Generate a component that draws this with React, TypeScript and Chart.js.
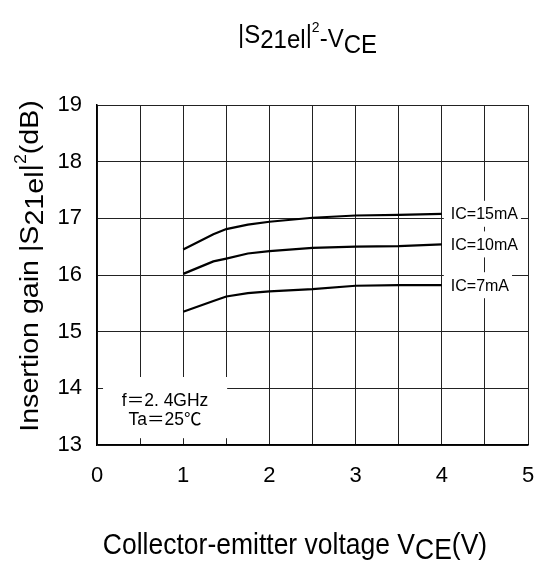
import React, { useEffect, useRef } from 'react';
import { Chart, registerables } from 'chart.js';

Chart.register(...registerables);

// ---- data ----
const vce = [1, 1.35, 1.5, 1.75, 2, 2.5, 3, 3.5, 4];
const gainIc15 = [16.45, 16.72, 16.81, 16.89, 16.94, 17.01, 17.05, 17.06, 17.08];
const gainIc10 = [16.02, 16.24, 16.29, 16.38, 16.42, 16.48, 16.5, 16.51, 16.54];
const gainIc7 = [15.35, 15.54, 15.62, 15.68, 15.71, 15.75, 15.81, 15.82, 15.82];
const seriesLabels = ['IC=15mA', 'IC=10mA', 'IC=7mA'];
const xTickValues = [0, 1, 2, 3, 4, 5];
const yTickValues = [13, 14, 15, 16, 17, 18, 19];
const conditionLines = ['f＝2. 4GHz', 'Ta＝25℃'];

const FONT = '"Liberation Sans", Arial, "Noto Sans CJK JP", sans-serif';

type Part = { t: string; size: number; dy: number };

function partsWidth(ctx: CanvasRenderingContext2D, parts: Part[]) {
  let w = 0;
  for (const p of parts) {
    ctx.font = `${p.size}px ${FONT}`;
    w += ctx.measureText(p.t).width;
  }
  return w;
}

function drawParts(ctx: CanvasRenderingContext2D, parts: Part[], x: number, y: number) {
  let cx = x;
  ctx.textAlign = 'left';
  ctx.textBaseline = 'alphabetic';
  for (const p of parts) {
    ctx.font = `${p.size}px ${FONT}`;
    ctx.fillText(p.t, cx, y + p.dy);
    cx += ctx.measureText(p.t).width;
  }
}

const titleParts: Part[] = [
  { t: '|S', size: 24, dy: 0 },
  { t: '21el', size: 24, dy: 5 },
  { t: '|', size: 24, dy: 0 },
  { t: '2', size: 14, dy: -10 },
  { t: '-V', size: 24, dy: 4 },
  { t: 'CE', size: 24, dy: 9 },
];

const xTitleParts: Part[] = [
  { t: 'Collector-emitter voltage V', size: 26.5, dy: 0 },
  { t: 'CE', size: 26.5, dy: 5 },
  { t: '(V)', size: 26.5, dy: 0 },
];

const yTitleParts: Part[] = [
  { t: 'Insertion gain |S', size: 26, dy: 0 },
  { t: '21el', size: 26, dy: 5 },
  { t: '|', size: 26, dy: 0 },
  { t: '2', size: 16, dy: -12 },
  { t: '(dB)', size: 26, dy: 0 },
];

const decorPlugin = {
  id: 'decor',
  afterDatasetsDraw(chart: any) {
    const ctx: CanvasRenderingContext2D = chart.ctx;
    const xs = chart.scales.x;
    const ys = chart.scales.y;
    ctx.save();
    ctx.fillStyle = '#000';

    // series labels at line ends
    const series = [gainIc15, gainIc10, gainIc7];
    series.forEach((arr, i) => {
      const lx = xs.getPixelForValue(vce[vce.length - 1]);
      const ly = ys.getPixelForValue(arr[arr.length - 1]);
      ctx.font = `16px ${FONT}`;
      const w = ctx.measureText(seriesLabels[i]).width;
      ctx.fillStyle = '#fff';
      ctx.fillRect(lx + 2, ly - 13, w + 10, 26);
      ctx.fillStyle = '#000';
      ctx.textAlign = 'left';
      ctx.textBaseline = 'middle';
      ctx.fillText(seriesLabels[i], lx + 9, ly + 1);
    });

    // condition box
    const bx0 = xs.getPixelForValue(0.07);
    const bx1 = xs.getPixelForValue(1.51);
    const by0 = ys.getPixelForValue(14.2);
    const by1 = ys.getPixelForValue(13.12);
    ctx.fillStyle = '#fff';
    ctx.fillRect(bx0, by0, bx1 - bx0, by1 - by0);
    ctx.fillStyle = '#000';
    ctx.font = `17.5px ${FONT}`;
    ctx.textAlign = 'center';
    ctx.textBaseline = 'middle';
    const cx = (bx0 + bx1) / 2;
    ctx.fillText(conditionLines[0], cx, by0 + 24);
    ctx.fillText(conditionLines[1], cx, by0 + 43);
    ctx.restore();
  },
  afterDraw(chart: any) {
    const ctx: CanvasRenderingContext2D = chart.ctx;
    const area = chart.chartArea;
    ctx.save();
    ctx.fillStyle = '#000';

    // title
    const tw = partsWidth(ctx, titleParts);
    ctx.save();
    ctx.translate((area.left + area.right) / 2 - 5, 43);
    ctx.scale(1, 1.08);
    drawParts(ctx, titleParts, -tw / 2, 0);
    ctx.restore();

    // x title
    const xw = partsWidth(ctx, xTitleParts);
    ctx.save();
    ctx.translate(295, 554);
    ctx.scale(1, 1.08);
    drawParts(ctx, xTitleParts, -xw / 2, 0);
    ctx.restore();

    // y title
    const yw = partsWidth(ctx, yTitleParts);
    ctx.save();
    ctx.translate(38, 266);
    ctx.rotate(-Math.PI / 2);
    ctx.scale(1.1, 1);
    drawParts(ctx, yTitleParts, -yw / 2, 0);
    ctx.restore();

    ctx.restore();
  },
};

export default function App() {
  const ref = useRef<HTMLCanvasElement | null>(null);

  useEffect(() => {
    if (!ref.current) return;
    const mk = (ys: number[]) => vce.map((x, i) => ({ x, y: ys[i] }));
    const chart = new Chart(ref.current, {
      type: 'line',
      data: {
        datasets: [
          { label: seriesLabels[0], data: mk(gainIc15) },
          { label: seriesLabels[1], data: mk(gainIc10) },
          { label: seriesLabels[2], data: mk(gainIc7) },
        ],
      },
      options: {
        responsive: false,
        animation: false,
        devicePixelRatio: 1,
        layout: { padding: { top: 105, right: 9, left: 0, bottom: 0 } },
        plugins: {
          legend: { display: false },
          tooltip: { enabled: false },
          title: { display: false },
        },
        elements: {
          point: { radius: 0 },
          line: { tension: 0, borderWidth: 2.2, borderColor: '#000' },
        },
        scales: {
          x: {
            type: 'linear',
            min: 0,
            max: 5,
            ticks: {
              stepSize: 0.5,
              autoSkip: false,
              maxRotation: 0,
              callback: (v: any) => (xTickValues.includes(Number(v)) ? String(v) : ''),
              font: { size: 22, family: FONT },
              color: '#000',
              padding: 18,
            },
            grid: { color: '#222', lineWidth: 1, drawTicks: false },
            border: { color: '#000', width: 1.5 },
            afterFit: (s: any) => {
              s.height = 118;
              s.paddingLeft = 0;
              s.paddingRight = 0;
            },
          },
          y: {
            min: 13,
            max: 19,
            ticks: {
              stepSize: 1,
              callback: (v: any) => (yTickValues.includes(Number(v)) ? String(v) : ''),
              font: { size: 22, family: FONT },
              color: '#000',
              padding: 15,
            },
            grid: { color: '#222', lineWidth: 1, drawTicks: false },
            border: { color: '#000', width: 1.5 },
            afterFit: (s: any) => {
              s.width = 97;
              s.paddingTop = 0;
              s.paddingBottom = 0;
            },
          },
        },
      } as any,
      plugins: [decorPlugin],
    });
    return () => chart.destroy();
  }, []);

  return (
    <div style={{ position: 'fixed', left: 0, top: 0, width: 537, height: 563, background: '#fff' }}>
      <canvas ref={ref} width={537} height={563} style={{ width: 537, height: 563 }} />
    </div>
  );
}
